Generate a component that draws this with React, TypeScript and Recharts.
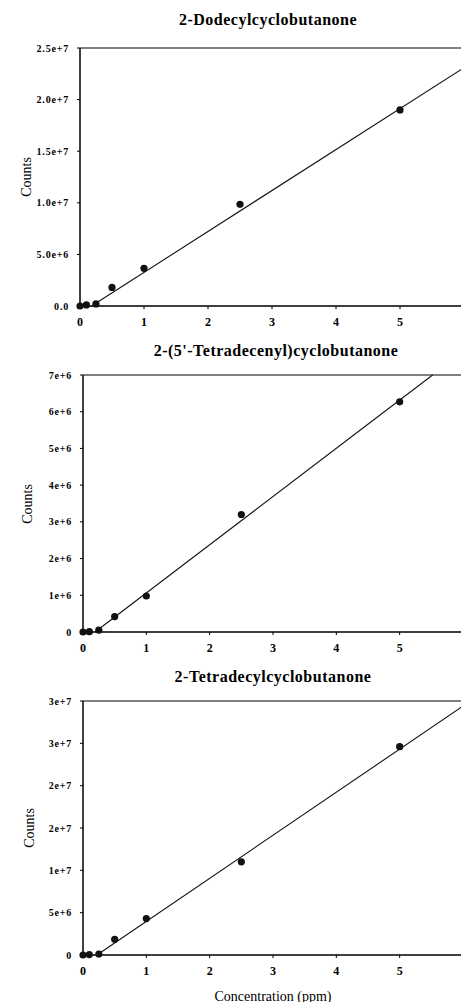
import { ScatterChart, Scatter, XAxis, YAxis, ReferenceLine } from "recharts";

// concentration levels (ppm)
const CONC = [0, 0.1, 0.25, 0.5, 1, 2.5, 5];

// measured counts per compound
const DODECYL = [0, 0.1e6, 0.2e6, 1.8e6, 3.65e6, 9.85e6, 1.9e7];
const TETRADECENYL = [0, 0.01e6, 0.05e6, 0.42e6, 0.98e6, 3.2e6, 6.27e6];
const TETRADECYL = [0, 0.05e6, 0.12e6, 1.86e6, 4.3e6, 1.1e7, 2.46e7];

// fitted calibration lines (ends)
const FIT_X_DODECYL = [0.18, 6];
const FIT_Y_DODECYL = [0, 2.31e7];
const FIT_X_TETRADECENYL = [0.19, 5.52];
const FIT_Y_TETRADECENYL = [0, 7e6];
const FIT_X_TETRADECYL = [0.22, 6];
const FIT_Y_TETRADECYL = [0, 2.94e7];

// the "6" label only peeks in on the first panel
const X_TICKS_FULL = [0, 1, 2, 3, 4, 5, 6];
const X_TICKS = [0, 1, 2, 3, 4, 5];

const Y_TICKS_DODECYL = [0, 5e6, 1e7, 1.5e7, 2e7, 2.5e7];
const Y_LABELS_DODECYL = ["0.0", "5.0e+6", "1.0e+7", "1.5e+7", "2.0e+7", "2.5e+7"];
const Y_TICKS_TETRADECENYL = [0, 1e6, 2e6, 3e6, 4e6, 5e6, 6e6, 7e6];
const Y_LABELS_TETRADECENYL = ["0", "1e+6", "2e+6", "3e+6", "4e+6", "5e+6", "6e+6", "7e+6"];
const Y_TICKS_TETRADECYL = [0, 5e6, 1e7, 1.5e7, 2e7, 2.5e7, 3e7];
const Y_LABELS_TETRADECYL = ["0", "5e+6", "1e+7", "2e+7", "2e+7", "3e+7", "3e+7"];

const SERIF = '"Liberation Serif", "DejaVu Serif", serif';

const toPoints = (xs: number[], ys: number[]) => xs.map((x, i) => ({ x, y: ys[i] }));

const Dot = (props: any) => <circle cx={props.cx} cy={props.cy} r={3.6} fill="#111" />;
const NoDot = () => <g />;

interface PanelProps {
  title: string;
  titleX: number;
  titleY: number;
  labelX: number;
  chartTop: number;
  plotH: number;
  axisW: number;
  plotW: number;
  xTicks: number[];
  yTicks: number[];
  yLabels: string[];
  xs: number[];
  ys: number[];
  fitX: number[];
  fitY: number[];
}

function Panel(p: PanelProps) {
  const yMax = p.yTicks[p.yTicks.length - 1];
  const top = 10;
  const height = top + p.plotH + 30;
  const width = p.axisW + p.plotW + 16;
  const tickStyle = { fill: "#000", fontSize: 12, fontWeight: "bold", fontFamily: SERIF };

  return (
    <>
      <div
        style={{
          position: "absolute",
          left: p.titleX - 200,
          width: 400,
          top: p.titleY - 9,
          lineHeight: "18px",
          textAlign: "center",
          fontFamily: SERIF,
          fontWeight: "bold",
          fontSize: 16,
          letterSpacing: 0.5,
        }}
      >
        {p.title}
      </div>
      <div
        style={{
          position: "absolute",
          left: p.labelX - 50,
          width: 100,
          top: p.chartTop + top + p.plotH / 2 - 9,
          lineHeight: "18px",
          textAlign: "center",
          fontFamily: SERIF,
          fontSize: 14,
          transform: "rotate(-90deg)",
        }}
      >
        Counts
      </div>
      <div style={{ position: "absolute", left: 0, top: p.chartTop }}>
        <ScatterChart width={width} height={height} margin={{ top, right: 16, bottom: 0, left: 0 }}>
          <XAxis
            type="number"
            dataKey="x"
            domain={[0, 6]}
            ticks={p.xTicks}
            height={30}
            tickSize={3}
            tickMargin={8}
            tick={tickStyle}
            axisLine={{ stroke: "#000", strokeWidth: 1.5 }}
            tickLine={{ stroke: "#000" }}
          />
          <YAxis
            type="number"
            dataKey="y"
            domain={[0, yMax]}
            ticks={p.yTicks}
            interval={0}
            width={p.axisW}
            tickSize={3}
            tickMargin={8}
            tickFormatter={(_v: number, i: number) => p.yLabels[i]}
            tick={{ ...tickStyle, fontSize: 10, letterSpacing: 0.8 }}
            axisLine={{ stroke: "#000", strokeWidth: 1.5 }}
            tickLine={{ stroke: "#000" }}
          />
          <ReferenceLine y={yMax} stroke="#000" strokeWidth={1.2} />
          <ReferenceLine x={6} stroke="#000" strokeWidth={1.2} />
          <Scatter
            data={toPoints(p.fitX, p.fitY)}
            line={{ stroke: "#111", strokeWidth: 1.1 }}
            shape={NoDot}
            isAnimationActive={false}
          />
          <Scatter data={toPoints(p.xs, p.ys)} shape={Dot} isAnimationActive={false} />
        </ScatterChart>
      </div>
    </>
  );
}

export default function App() {
  return (
    <div
      style={{
        position: "fixed",
        left: 0,
        top: 0,
        width: 461,
        height: 1002,
        overflow: "hidden",
        background: "#fff",
        color: "#000",
      }}
    >
      <Panel
        title="2-Dodecylcyclobutanone"
        titleX={268}
        titleY={20}
        labelX={27}
        chartTop={38}
        plotH={258}
        axisW={80}
        plotW={384}
        xTicks={X_TICKS_FULL}
        yTicks={Y_TICKS_DODECYL}
        yLabels={Y_LABELS_DODECYL}
        xs={CONC}
        ys={DODECYL}
        fitX={FIT_X_DODECYL}
        fitY={FIT_Y_DODECYL}
      />
      <Panel
        title="2-(5'-Tetradecenyl)cyclobutanone"
        titleX={276}
        titleY={351}
        labelX={28}
        chartTop={365}
        plotH={257}
        axisW={83}
        plotW={380}
        xTicks={X_TICKS}
        yTicks={Y_TICKS_TETRADECENYL}
        yLabels={Y_LABELS_TETRADECENYL}
        xs={CONC}
        ys={TETRADECENYL}
        fitX={FIT_X_TETRADECENYL}
        fitY={FIT_Y_TETRADECENYL}
      />
      <Panel
        title="2-Tetradecylcyclobutanone"
        titleX={273}
        titleY={677}
        labelX={30}
        chartTop={691}
        plotH={254}
        axisW={83}
        plotW={380}
        xTicks={X_TICKS}
        yTicks={Y_TICKS_TETRADECYL}
        yLabels={Y_LABELS_TETRADECYL}
        xs={CONC}
        ys={TETRADECYL}
        fitX={FIT_X_TETRADECYL}
        fitY={FIT_Y_TETRADECYL}
      />
      <div
        style={{
          position: "absolute",
          left: 273 - 150,
          width: 300,
          top: 989,
          lineHeight: "16px",
          textAlign: "center",
          fontFamily: SERIF,
          fontSize: 14,
        }}
      >
        Concentration (ppm)
      </div>
    </div>
  );
}
